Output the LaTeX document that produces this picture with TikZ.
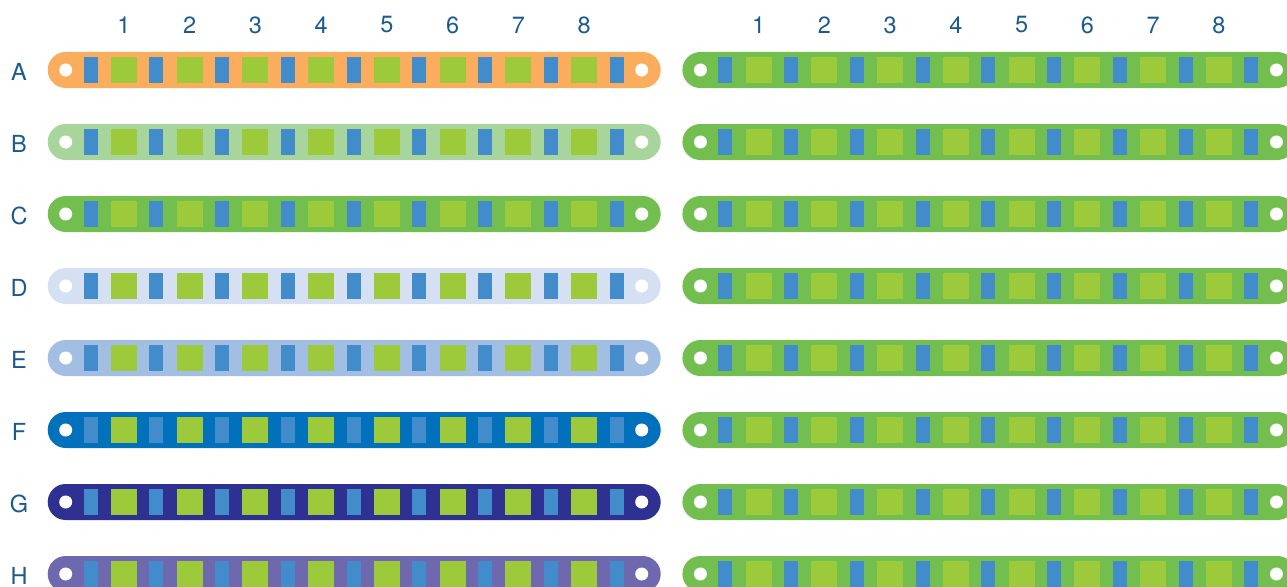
\documentclass[tikz,border=0pt]{standalone}
\usepackage{fontspec}
\setmainfont{TeX Gyre Heros}
\definecolor{cA}{HTML}{FBAD5E}
\definecolor{cB}{HTML}{A8D59B}
\definecolor{cC}{HTML}{72BF4F}
\definecolor{cD}{HTML}{D5E0F2}
\definecolor{cE}{HTML}{A3BEE3}
\definecolor{cF}{HTML}{0071BA}
\definecolor{cG}{HTML}{2E3192}
\definecolor{cH}{HTML}{6E69AE}
\definecolor{wellblue}{HTML}{428CCB}
\definecolor{wellgreen}{HTML}{9DCA3A}
\definecolor{txt}{HTML}{1A5A8E}
\tikzset{
  strip/.style={draw=none, rounded corners=18pt, minimum width=613pt, minimum height=36pt, inner sep=0pt},
  bluewell/.style={draw=none, fill=wellblue, minimum width=14pt, minimum height=26pt, inner sep=0pt},
  greenwell/.style={draw=none, fill=wellgreen, minimum width=26pt, minimum height=26pt, inner sep=0pt},
  hole/.style={circle, draw=none, fill=white, minimum size=13pt, inner sep=0pt},
  lbl/.style={text=txt, font=\fontsize{23.5}{23.5}\selectfont, inner sep=0pt}
}
\begin{document}
\begin{tikzpicture}[x=1pt,y=-1pt]
\useasboundingbox (0,0) rectangle (1287,586);
\clip (0,0) rectangle (1287,586);
% column numbers
\foreach \k in {1,...,8}{
  \node[lbl] (numL\k) at ({124+(\k-1)*65.73},25) {\k};
  \node[lbl] (numR\k) at ({124+634.7+(\k-1)*65.73},25) {\k};
}
\foreach \r/\c [count=\i from 0] in {A/cA,B/cB,C/cC,D/cD,E/cE,F/cF,G/cG,H/cH}{
  \pgfmathsetmacro{\yy}{70+\i*72}
  \node[lbl] (row\r) at (19,\yy+1.5) {\r};
  % left strip
  \node[strip, fill=\c] (stripL\r) at (354.2,\yy) {};
  \node[hole] (holeLa\r) at (65.7,\yy) {};
  \node[hole] (holeLb\r) at (641.7,\yy) {};
  \foreach \k in {0,...,8}{
    \node[bluewell] (bL\r\k) at ({90.7+\k*65.73},\yy) {};
  }
  \foreach \k in {0,...,7}{
    \node[greenwell] (gL\r\k) at ({124+\k*65.73},\yy) {};
  }
  % right strip
  \node[strip, fill=cC] (stripR\r) at (354.2+634.7,\yy) {};
  \node[hole] (holeRa\r) at (65.7+634.7,\yy) {};
  \node[hole] (holeRb\r) at (641.7+634.7,\yy) {};
  \foreach \k in {0,...,8}{
    \node[bluewell] (bR\r\k) at ({90.7+634.7+\k*65.73},\yy) {};
  }
  \foreach \k in {0,...,7}{
    \node[greenwell] (gR\r\k) at ({124+634.7+\k*65.73},\yy) {};
  }
}
\end{tikzpicture}
\end{document}
